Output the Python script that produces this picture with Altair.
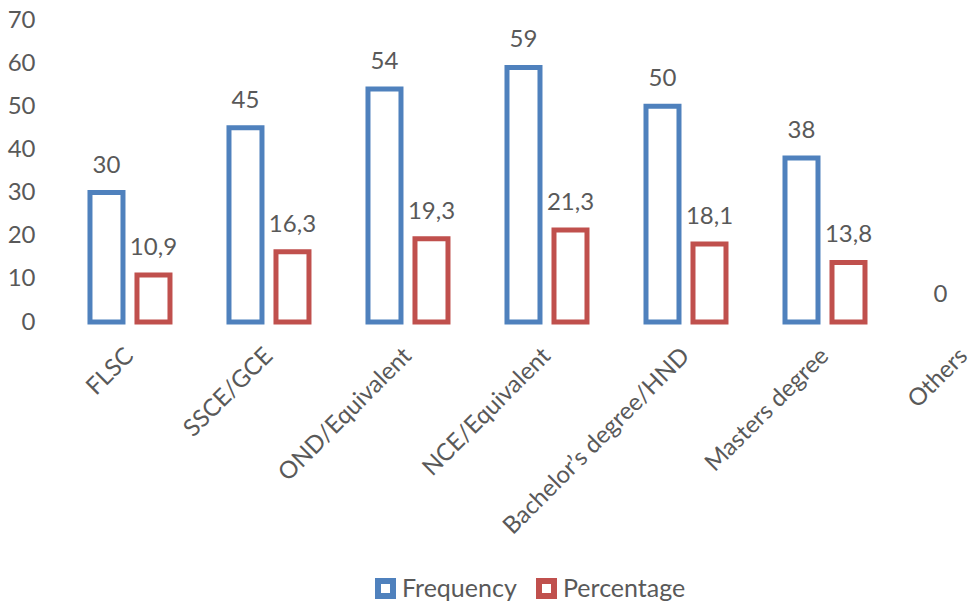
import altair as alt
import pandas as pd

# Highest level of education: counts and shares
categories = [
    "FLSC",
    "SSCE/GCE",
    "OND/Equivalent",
    "NCE/Equivalent",
    "Bachelor’s degree/HND",
    "Masters degree",
    "Others",
]
frequency = [30, 45, 54, 59, 50, 38, 0]
percentage = [10.9, 16.3, 19.3, 21.3, 18.1, 13.8, None]
series_names = ["Frequency", "Percentage"]
series_colors = ["#4F81BD", "#C0504D"]
y_ticks = [0, 10, 20, 30, 40, 50, 60, 70]

rows = []
for cat, f, p in zip(categories, frequency, percentage):
    rows.append({"category": cat, "series": "Frequency", "value": f})
    if p is not None:
        rows.append({"category": cat, "series": "Percentage", "value": p})
df = pd.DataFrame(rows)

FONT = "Lato"
GREY = "#595959"
BAR_W = 33
SHIFT = 23.5

x_enc = alt.X(
    "category:N",
    sort=categories,
    scale=alt.Scale(paddingInner=0.95, paddingOuter=0.2555, align=0.9363),
    axis=alt.Axis(
        title=None,
        labelAngle=-45,
        labelAlign="right",
        labelBaseline="middle",
        labelPadding=30,
        labelLimit=0,
        ticks=False,
        tickSize=0,
        domain=False,
        labelFont=FONT,
        labelFontSize=24,
        labelColor=GREY,
        labelOverlap=False,
    ),
)
y_enc = alt.Y(
    "value:Q",
    scale=alt.Scale(domain=[0, 70], nice=False),
    axis=alt.Axis(
        title=None,
        values=y_ticks,
        grid=False,
        domain=False,
        ticks=False,
        tickSize=0,
        labelPadding=25,
        labelFont=FONT,
        labelFontSize=24,
        labelColor=GREY,
    ),
)
color_enc = alt.Color(
    "series:N",
    scale=alt.Scale(domain=series_names, range=series_colors),
    legend=alt.Legend(
        title=None,
        orient="none",
        direction="horizontal",
        legendX=313,
        legendY=556,
        symbolType="square",
        symbolSize=225,
        symbolStrokeWidth=6,
        symbolFillColor="white",
        labelFont=FONT,
        labelFontSize=25,
        labelColor=GREY,
        labelOffset=4,
        columnPadding=10,
    ),
)

base = alt.Chart(df).transform_calculate(
    label="replace(toString(datum.value), '.', ',')"
)

bars = []
texts = []
for name, shift in zip(series_names, [-SHIFT, SHIFT]):
    sel = f"datum.series == '{name}'"
    bars.append(
        base.transform_filter(sel + " && datum.value > 0")
        .mark_bar(filled=False, strokeWidth=5, width=BAR_W, xOffset=shift)
        .encode(x=x_enc, y=y_enc, color=color_enc)
    )
    texts.append(
        base.transform_filter(sel)
        .mark_text(
            baseline="alphabetic",
            dy=-20,
            xOffset=shift,
            font=FONT,
            fontSize=24,
            color=GREY,
        )
        .encode(x=x_enc, y=y_enc, text="label:N")
    )

chart = (
    alt.layer(*bars, *texts)
    .properties(
        width=912,
        height=302,
        background="white",
        autosize=alt.AutoSizeParams(type="none"),
        padding={"left": 60, "top": 20, "right": 4, "bottom": 283},
    )
    .configure_view(strokeWidth=0, stroke="transparent")
    .configure_legend(symbolStrokeWidth=6)
)

chart.save("out.html", embed_options={"renderer": "svg", "actions": False})
